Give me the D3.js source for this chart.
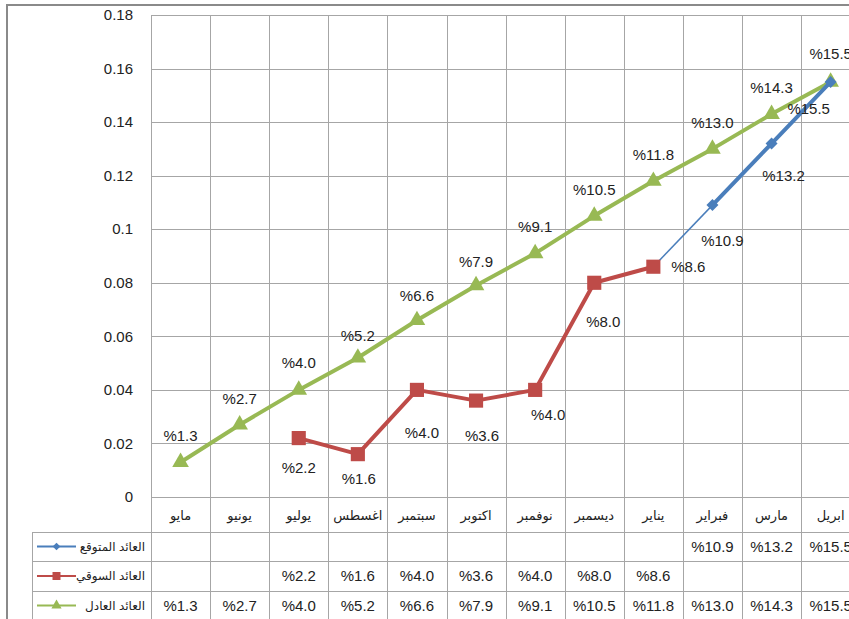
<!DOCTYPE html>
<html><head><meta charset="utf-8">
<script src="https://cdn.jsdelivr.net/npm/d3@7"></script>
<style>
html,body{margin:0;padding:0;background:#fff;overflow:hidden;}
svg{display:block;font-family:"Liberation Sans",Arial,"DejaVu Sans",sans-serif;}
</style></head>
<body><svg id="chart" width="849" height="619"></svg>
<script>
// ---- data ----
const months = ["مايو","يونيو","يوليو","اغسطس","سبتمبر","اكتوبر","نوفمبر","ديسمبر","يناير","فبراير","مارس","ابريل"];
const seriesNames = ["العائد المتوقع","العائد السوقي","العائد العادل"];
const expected = [null,null,null,null,null,null,null,null,null,10.9,13.2,15.5];
const market   = [null,null,2.2,1.6,4.0,3.6,4.0,8.0,8.6,null,null,null];
const fair     = [1.3,2.7,4.0,5.2,6.6,7.9,9.1,10.5,11.8,13.0,14.3,15.5];
const yTicks = [0,0.02,0.04,0.06,0.08,0.1,0.12,0.14,0.16,0.18];
const yTickLabels = ["0","0.02","0.04","0.06","0.08","0.1","0.12","0.14","0.16","0.18"];
// label offsets (style)
const fairLabelOff   = [[0,-26],[0,-26],[0,-27],[0,-22],[0,-25],[0,-24],[0,-27],[0,-26],[0,-26],[0,-26],[0,-26],[0,-28]];
const marketLabelOff = [null,null,[0,30],[1,25],[5,43],[6,35],[13,25],[9,39],[35,0],null,null,null];
const expectedLabelOff = [null,null,null,null,null,null,null,null,null,[10,36],[12,32],[-22,27]];

const colors = {blue:"#4A7EBB", red:"#BE4B48", green:"#98B954"};
const grid = "#A6A6A6";

const svg = d3.select("#chart");
const plotLeft = 151, colW = 59.1, plotTop = 15, plotBottom = 497;
const x = d3.scaleBand().domain(months).range([plotLeft, plotLeft + colW*months.length]).padding(0);
const y = d3.scaleLinear().domain([0,0.18]).range([plotBottom, plotTop]);
const cx = m => x(m) + x.bandwidth()/2;

// outer border
svg.append("rect").attr("x",7).attr("y",5).attr("width",900).attr("height",700)
  .attr("fill","#fff").attr("stroke","#8A8A8A").attr("stroke-width",2);

// gridlines horizontal
const gAxis = svg.append("g");
gAxis.selectAll("line.h").data(yTicks).join("line")
  .attr("x1",plotLeft).attr("x2",870).attr("y1",d=>Math.round(y(d))+0.5).attr("y2",d=>Math.round(y(d))+0.5)
  .attr("stroke",grid).attr("stroke-width",1);
// vertical lines (plot + category row + table)
const bounds = months.map(m=>x(m)).concat([x.range()[1]]);
gAxis.selectAll("line.v").data(bounds).join("line")
  .attr("x1",d=>Math.round(d)+0.5).attr("x2",d=>Math.round(d)+0.5).attr("y1",plotTop).attr("y2",625)
  .attr("stroke",grid).attr("stroke-width",1);
// table rows
const rowY = [532,561,591,620];
gAxis.selectAll("line.r").data(rowY).join("line")
  .attr("x1",32).attr("x2",870).attr("y1",d=>d+0.5).attr("y2",d=>d+0.5)
  .attr("stroke",grid).attr("stroke-width",1);
gAxis.append("line").attr("x1",32.5).attr("x2",32.5).attr("y1",532).attr("y2",625).attr("stroke",grid);

// y tick labels
svg.append("g").selectAll("text").data(yTicks).join("text")
  .attr("x",133).attr("y",d=>y(d)).attr("dy","0.35em").attr("text-anchor","end")
  .attr("font-size",15).attr("fill","#222").text((d,i)=>yTickLabels[i]);

// category labels
svg.append("g").selectAll("text").data(months).join("text")
  .attr("x",d=>cx(d)).attr("y",515).attr("dy","0.35em").attr("text-anchor","middle")
  .attr("font-size",13).attr("fill","#222").text(d=>d);

// lines
function pts(arr){ return months.map((m,i)=>({m,v:arr[i],i})).filter(p=>p.v!=null); }
const line = d3.line().x(p=>cx(p.m)).y(p=>y(p.v/100));

// thin connector from last market point to first expected point
const lastMarket = pts(market).slice(-1)[0], firstExp = pts(expected)[0];
svg.append("path").attr("d",line([lastMarket,firstExp])).attr("fill","none")
  .attr("stroke",colors.blue).attr("stroke-width",1.5);

function drawSeries(arr,color,symType,symSize,rot){
  const p = pts(arr);
  svg.append("path").attr("d",line(p)).attr("fill","none").attr("stroke",color)
    .attr("stroke-width",4).attr("stroke-linejoin","round");
  svg.append("g").selectAll("path").data(p).join("path")
    .attr("d",d3.symbol().type(symType).size(symSize)())
    .attr("transform",d=>`translate(${cx(d.m)},${y(d.v/100)}) rotate(${rot})`)
    .attr("fill",color);
}
drawSeries(fair,colors.green,d3.symbolTriangle,120,0);
drawSeries(market,colors.red,d3.symbolSquare,200,0);
drawSeries(expected,colors.blue,d3.symbolSquare,72,45);

// data labels
function labels(arr,offs){
  svg.append("g").selectAll("text").data(pts(arr)).join("text")
    .attr("x",d=>cx(d.m)+offs[d.i][0]).attr("y",d=>y(d.v/100)+offs[d.i][1]).attr("dy","0.35em")
    .attr("text-anchor","middle").attr("font-size",15).attr("fill","#222")
    .text(d=>"%"+d.v.toFixed(1));
}
labels(fair,fairLabelOff);
labels(market,marketLabelOff);
labels(expected,expectedLabelOff);

// table
const tableSeries = [expected,market,fair];
const tableColors = [colors.blue,colors.red,colors.green];
const tableSym = [[d3.symbolSquare,30,45],[d3.symbolSquare,64,0],[d3.symbolTriangle,45,0]];
tableSeries.forEach((arr,r)=>{
  const cyR = (rowY[r]+rowY[r+1])/2;
  svg.append("g").selectAll("text").data(pts(arr)).join("text")
    .attr("x",d=>cx(d.m)).attr("y",cyR).attr("dy","0.35em").attr("text-anchor","middle")
    .attr("font-size",15).attr("fill","#222").text(d=>"%"+d.v.toFixed(1));
  // legend key
  svg.append("line").attr("x1",37).attr("x2",76).attr("y1",cyR).attr("y2",cyR)
    .attr("stroke",tableColors[r]).attr("stroke-width",2);
  svg.append("path").attr("d",d3.symbol().type(tableSym[r][0]).size(tableSym[r][1])())
    .attr("transform",`translate(56.5,${cyR}) rotate(${tableSym[r][2]})`).attr("fill",tableColors[r]);
  svg.append("text").attr("x",145).attr("y",cyR).attr("dy","0.35em").attr("text-anchor","end")
    .attr("font-size",12).attr("fill","#222").text(seriesNames[r]);
});
</script></body></html>
